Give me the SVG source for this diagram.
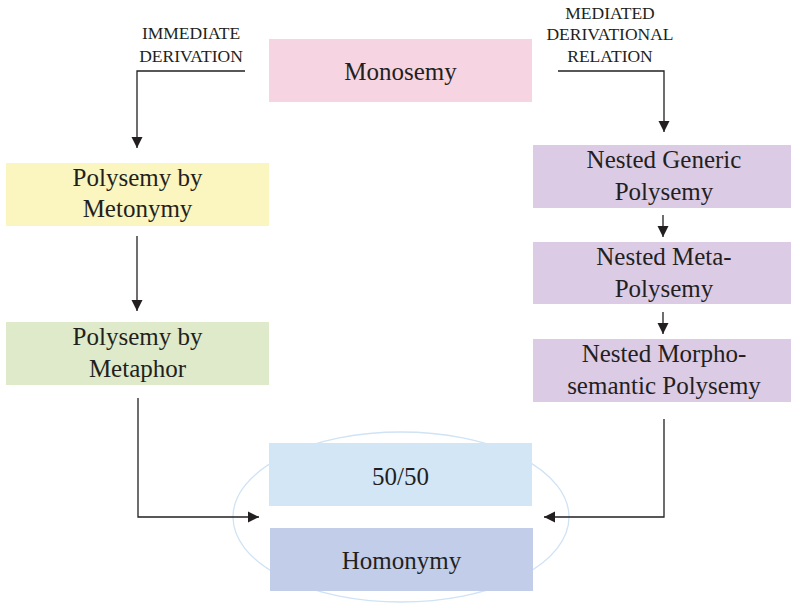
<svg xmlns="http://www.w3.org/2000/svg" width="791" height="603" viewBox="0 0 791 603">
<defs>
<marker id="ah" markerUnits="userSpaceOnUse" markerWidth="12" markerHeight="12" viewBox="0 0 12 12" refX="11" refY="6" orient="auto">
<path d="M0,0.5 L11,6 L0,11.5 z" fill="#231f20"/>
</marker>
</defs>
<style>
.t{font-family:"Liberation Serif","Times New Roman",serif;font-size:25px;fill:#231f20;text-anchor:middle}
.s{font-family:"Liberation Serif","Times New Roman",serif;font-size:17.5px;fill:#231f20;text-anchor:middle}
.c{fill:none;stroke:#231f20;stroke-width:1.3;marker-end:url(#ah)}
</style>
<rect width="791" height="603" fill="#ffffff"/>
<ellipse id="group-ellipse" cx="401" cy="517" rx="168" ry="85" fill="none" stroke="#cfe3f5" stroke-width="1.3"/>
<g id="label-immediate">
<text class="s" x="191" y="39">IMMEDIATE</text>
<text class="s" x="191" y="62">DERIVATION</text>
</g>
<g id="label-mediated">
<text class="s" x="610" y="19">MEDIATED</text>
<text class="s" x="610" y="40">DERIVATIONAL</text>
<text class="s" x="610" y="62">RELATION</text>
</g>
<g id="monosemy">
<rect x="269" y="39" width="263" height="63" fill="#f7d4e1"/>
<text class="t" x="400.5" y="80">Monosemy</text>
</g>
<g id="metonymy">
<rect x="6" y="163" width="263" height="63" fill="#fbf5bf"/>
<text class="t" x="137.5" y="186">Polysemy by</text>
<text class="t" x="137.5" y="217">Metonymy</text>
</g>
<g id="metaphor">
<rect x="6" y="322" width="263" height="63" fill="#deeac9"/>
<text class="t" x="137.5" y="345">Polysemy by</text>
<text class="t" x="137.5" y="377">Metaphor</text>
</g>
<g id="nested-generic">
<rect x="533" y="145" width="263" height="63" fill="#dccbe5"/>
<text class="t" x="664" y="168">Nested Generic</text>
<text class="t" x="664" y="200">Polysemy</text>
</g>
<g id="nested-meta">
<rect x="533" y="242" width="263" height="62" fill="#dccbe5"/>
<text class="t" x="664" y="265">Nested Meta-</text>
<text class="t" x="664" y="297">Polysemy</text>
</g>
<g id="nested-morpho">
<rect x="533" y="339" width="263" height="63" fill="#dccbe5"/>
<text class="t" x="664" y="362">Nested Morpho-</text>
<text class="t" x="664" y="394">semantic Polysemy</text>
</g>
<g id="fifty">
<rect x="269" y="443" width="263" height="63" fill="#d3e6f6"/>
<text class="t" x="400.5" y="485">50/50</text>
</g>
<g id="homonymy">
<rect x="270" y="528" width="263" height="63" fill="#c2cde9"/>
<text class="t" x="401.5" y="569">Homonymy</text>
</g>
<g id="connectors">
<path class="c" d="M245,71 H137 V148"/>
<path class="c" d="M558,71 H664 V132"/>
<path class="c" d="M137,236 V311"/>
<path class="c" d="M663,215 V237"/>
<path class="c" d="M663,312 V334"/>
<path class="c" d="M138,398 V517 H259"/>
<path class="c" d="M664,419 V517 H544"/>
</g>
</svg>
